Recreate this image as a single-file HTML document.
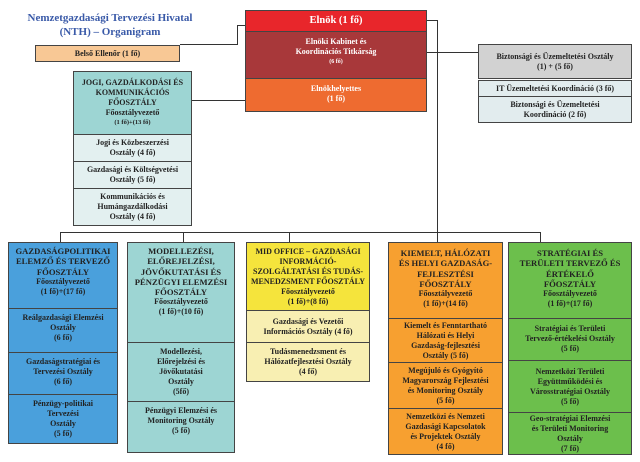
<!DOCTYPE html>
<html><head><meta charset="utf-8"><style>
body{margin:0;width:640px;height:462px;background:#fff;position:relative;overflow:hidden;font-family:"Liberation Serif",serif;font-weight:bold;color:#222}
.b{position:absolute;box-sizing:border-box;border:1px solid #444;display:flex;flex-direction:column;align-items:center;justify-content:flex-start;text-align:center;font-size:8px;line-height:10px;padding-top:3px}
.c{justify-content:center;padding-top:0}
.l{position:absolute;background:#333}
.h{font-size:8.6px;line-height:10.3px}
</style></head><body>
<div style="position:absolute;left:10px;top:11px;width:200px;text-align:center;color:#3a5aa8;font-size:11px;line-height:14px">Nemzetgazdasági Tervezési Hivatal<br>(NTH) – Organigram</div>
<div class="l" style="left:180px;top:44px;width:58px;height:1px"></div>
<div class="l" style="left:237px;top:25px;width:1px;height:20px"></div>
<div class="l" style="left:237px;top:25px;width:8px;height:1px"></div>
<div class="l" style="left:427px;top:20px;width:10px;height:1px"></div>
<div class="l" style="left:437px;top:20px;width:1px;height:213px"></div>
<div class="l" style="left:427px;top:52px;width:51px;height:1px"></div>
<div class="l" style="left:192px;top:100px;width:53px;height:1px"></div>
<div class="l" style="left:60px;top:232px;width:480px;height:1px"></div>
<div class="l" style="left:60px;top:232px;width:1px;height:10px"></div>
<div class="l" style="left:183px;top:232px;width:1px;height:10px"></div>
<div class="l" style="left:289px;top:232px;width:1px;height:10px"></div>
<div class="l" style="left:437px;top:232px;width:1px;height:10px"></div>
<div class="l" style="left:540px;top:232px;width:1px;height:10px"></div>

<div class="b c" style="left:35px;top:45px;width:145px;height:17px;background:#f8c895">Belső Ellenőr (1 fő)</div>

<div class="b c" style="left:245px;top:10px;width:182px;height:22px;background:#e8262b;color:#fff;font-size:10.5px">Elnök (1 fő)</div>
<div class="b" style="left:245px;top:31px;width:182px;height:48px;background:#a8383a;color:#fff;padding-top:5px">Elnöki Kabinet és<br>Koordinációs Titkárság<br><span style="font-size:6px">(6 fő)</span></div>
<div class="b" style="left:245px;top:78px;width:182px;height:34px;background:#ee6b30;color:#fff;padding-top:5px">Elnökhelyettes<br>(1 fő)</div>

<div class="b c" style="left:478px;top:44px;width:154px;height:35px;background:#d2d2d2">Biztonsági és Üzemeltetési Osztály<br>(1) + (5 fő)</div>
<div class="b c" style="left:478px;top:80px;width:154px;height:17px;background:#e2ecee">IT Üzemeltetési Koordináció (3 fő)</div>
<div class="b c" style="left:478px;top:96px;width:154px;height:27px;background:#e2ecee">Biztonsági és Üzemeltetési<br>Koordináció (2 fő)</div>

<div class="b" style="left:73px;top:71px;width:119px;height:64px;background:#9dd5d3;padding-top:6px">JOGI, GAZDÁLKODÁSI ÉS<br>KOMMUNIKÁCIÓS<br>FŐOSZTÁLY<br>Főosztályvezető<br><span style="font-size:6.5px">(1 fő)+(13 fő)</span></div>
<div class="b c" style="left:73px;top:134px;width:119px;height:28px;background:#e3f0f0">Jogi és Közbeszerzési<br>Osztály (4 fő)</div>
<div class="b c" style="left:73px;top:161px;width:119px;height:28px;background:#e3f0f0">Gazdasági és Költségvetési<br>Osztály (5 fő)</div>
<div class="b c" style="left:73px;top:188px;width:119px;height:38px;background:#e3f0f0">Kommunikációs és<br>Humángazdálkodási<br>Osztály (4 fő)</div>

<div class="b" style="left:8px;top:242px;width:110px;height:67px;background:#4aa0dc"><span class="h">GAZDASÁGPOLITIKAI<br>ELEMZŐ ÉS TERVEZŐ<br>FŐOSZTÁLY</span>Főosztályvezető<br>(1 fő)+(17 fő)</div>
<div class="b" style="left:8px;top:308px;width:110px;height:45px;background:#4aa0dc;padding-top:4px">Reálgazdasági Elemzési<br>Osztály<br>(6 fő)</div>
<div class="b" style="left:8px;top:352px;width:110px;height:43px;background:#4aa0dc;padding-top:4px">Gazdaságstratégiai és<br>Tervezési Osztály<br>(6 fő)</div>
<div class="b" style="left:8px;top:394px;width:110px;height:50px;background:#4aa0dc;padding-top:4px">Pénzügy-politikai<br>Tervezési<br>Osztály<br>(5 fő)</div>

<div class="b" style="left:127px;top:242px;width:108px;height:101px;background:#9dd5d3"><span class="h">MODELLEZÉSI,<br>ELŐREJELZÉSI,<br>JÖVŐKUTATÁSI ÉS<br>PÉNZÜGYI ELEMZÉSI<br>FŐOSZTÁLY</span>Főosztályvezető<br>(1 fő)+(10 fő)</div>
<div class="b" style="left:127px;top:342px;width:108px;height:60px;background:#9dd5d3;padding-top:4px">Modellezési,<br>Előrejelzési és<br>Jövőkutatási<br>Osztály<br>(5fő)</div>
<div class="b" style="left:127px;top:401px;width:108px;height:52px;background:#9dd5d3;padding-top:4px">Pénzügyi Elemzési és<br>Monitoring Osztály<br>(5 fő)</div>

<div class="b" style="left:246px;top:242px;width:124px;height:69px;background:#f5e43c;padding-top:4px">MID OFFICE – GAZDASÁGI<br>INFORMÁCIÓ-<br>SZOLGÁLTATÁSI ÉS TUDÁS-<br>MENEDZSMENT FŐOSZTÁLY<br>Főosztályvezető<br>(1 fő)+(8 fő)</div>
<div class="b c" style="left:246px;top:310px;width:124px;height:33px;background:#f8efb2">Gazdasági és Vezetői<br>Információs Osztály (4 fő)</div>
<div class="b" style="left:246px;top:342px;width:124px;height:40px;background:#f8efb2;padding-top:4px">Tudásmenedzsment és<br>Hálózatfejlesztési Osztály<br>(4 fő)</div>

<div class="b" style="left:388px;top:242px;width:115px;height:77px;background:#f7a030;padding-top:5px"><span class="h">KIEMELT, HÁLÓZATI<br>ÉS HELYI GAZDASÁG-<br>FEJLESZTÉSI<br>FŐOSZTÁLY</span>Főosztályvezető<br>(1 fő)+(14 fő)</div>
<div class="b c" style="left:388px;top:318px;width:115px;height:45px;background:#f7a030">Kiemelt és Fenntartható<br>Hálózati és Helyi<br>Gazdaság-fejlesztési<br>Osztály (5 fő)</div>
<div class="b c" style="left:388px;top:362px;width:115px;height:47px;background:#f7a030">Megújuló és Gyógyító<br>Magyarország Fejlesztési<br>és Monitoring Osztály<br>(5 fő)</div>
<div class="b c" style="left:388px;top:408px;width:115px;height:47px;background:#f7a030">Nemzetközi és Nemzeti<br>Gazdasági Kapcsolatok<br>és Projektek Osztály<br>(4 fő)</div>

<div class="b" style="left:508px;top:242px;width:124px;height:77px;background:#6cbf4c;padding-top:5px"><span class="h">STRATÉGIAI ÉS<br>TERÜLETI TERVEZŐ ÉS<br>ÉRTÉKELŐ<br>FŐOSZTÁLY</span>Főosztályvezető<br>(1 fő)+(17 fő)</div>
<div class="b" style="left:508px;top:318px;width:124px;height:43px;background:#6cbf4c;padding-top:5px">Stratégiai és Területi<br>Tervező-értékelési Osztály<br>(5 fő)</div>
<div class="b" style="left:508px;top:360px;width:124px;height:53px;background:#6cbf4c;padding-top:6px">Nemzetközi Területi<br>Együttműködési és<br>Városstratégiai Osztály<br>(5 fő)</div>
<div class="b c" style="left:508px;top:412px;width:124px;height:43px;background:#6cbf4c">Geo-stratégiai Elemzési<br>és Területi Monitoring<br>Osztály<br>(7 fő)</div>
</body></html>
